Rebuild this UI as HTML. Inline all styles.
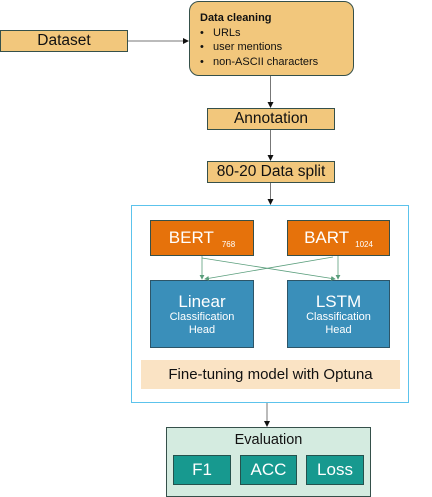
<!DOCTYPE html>
<html><head><style>
body{margin:0;width:432px;height:491px;background:#fff;position:relative;overflow:hidden;font-family:"Liberation Sans",sans-serif}
.b{position:absolute;box-sizing:border-box;display:flex;align-items:center;justify-content:center;color:#111}
.tan{background:#f2c77c;border:1px solid #35504a}
.or{background:#e6720b;border:1px solid #35504a;color:#fff;font-size:17px}
.bl{background:#3a8fba;border:1px solid #2d5568;color:#fff;flex-direction:column;line-height:1.15}
.tl{background:#17998f;border:1px solid #24524d;color:#fff;font-size:17px}
</style></head><body>
<div class="b tan" style="left:0;top:30px;width:128px;height:22px;font-size:15.5px">Dataset</div>
<div class="b tan" style="left:189px;top:1px;width:165px;height:75px;border-radius:10px;display:block;padding:9px 0 0 10px;font-size:11px;line-height:14.5px">
<b>Data cleaning</b><br>
<span style="display:inline-block;width:13px">•</span>URLs<br>
<span style="display:inline-block;width:13px">•</span>user mentions<br>
<span style="display:inline-block;width:13px">•</span>non-ASCII characters</div>
<div class="b tan" style="left:207px;top:108px;width:128px;height:22px;font-size:15.5px">Annotation</div>
<div class="b tan" style="left:207px;top:161px;width:128px;height:22px;font-size:15.5px">80-20 Data split</div>
<div class="b" style="left:131px;top:205px;width:278px;height:198px;border:1.5px solid #5cc3ec"></div>
<div class="b or" style="left:150px;top:220px;width:104px;height:36px">BERT<span style="font-size:8px;margin:12px 0 0 8px">768</span></div>
<div class="b or" style="left:287px;top:220px;width:103px;height:36px">BART<span style="font-size:8px;margin:12px 0 0 6px">1024</span></div>
<div class="b bl" style="left:150px;top:280px;width:104px;height:68px"><span style="font-size:17px">Linear</span><span style="font-size:11px">Classification</span><span style="font-size:11px">Head</span></div>
<div class="b bl" style="left:287px;top:280px;width:103px;height:68px"><span style="font-size:17px">LSTM</span><span style="font-size:11px">Classification</span><span style="font-size:11px">Head</span></div>
<div class="b" style="left:141px;top:360px;width:259px;height:29px;background:#fae3c4;font-size:15px">Fine-tuning model with Optuna</div>
<div class="b" style="left:166px;top:427px;width:205px;height:70px;background:#d4ebe0;border:1px solid #35504a;display:block;text-align:center;padding-top:4px;font-size:14.5px">Evaluation</div>
<div class="b tl" style="left:173px;top:455px;width:58px;height:30px">F1</div>
<div class="b tl" style="left:240px;top:455px;width:57px;height:30px">ACC</div>
<div class="b tl" style="left:306px;top:455px;width:58px;height:30px">Loss</div>
<svg width="432" height="491" style="position:absolute;left:0;top:0">
<defs><marker id="a" markerWidth="6" markerHeight="6" refX="5" refY="3" orient="auto"><path d="M0,0L6,3L0,6z" fill="#111"/></marker>
<marker id="g" markerWidth="6" markerHeight="6" refX="5" refY="3" orient="auto"><path d="M0,0L6,3L0,6z" fill="#5a9e7c"/></marker></defs>
<g stroke="#777" stroke-width="1" fill="none">
<line x1="128" y1="41" x2="188" y2="41" marker-end="url(#a)"/>
<line x1="270.5" y1="76" x2="270.5" y2="107" marker-end="url(#a)"/>
<line x1="270.5" y1="130" x2="270.5" y2="160" marker-end="url(#a)"/>
<line x1="270.5" y1="183" x2="270.5" y2="204" marker-end="url(#a)"/>
<line x1="267" y1="403" x2="267" y2="426" marker-end="url(#a)"/>
</g>
<g stroke="#5a9e7c" stroke-width="0.8" fill="none">
<line x1="202" y1="256" x2="202" y2="279" marker-end="url(#g)"/>
<line x1="338" y1="256" x2="338" y2="279" marker-end="url(#g)"/>
<line x1="202" y1="258" x2="335" y2="279" marker-end="url(#g)"/>
<line x1="333" y1="257" x2="205" y2="279" marker-end="url(#g)"/>
</g></svg>
</body></html>
